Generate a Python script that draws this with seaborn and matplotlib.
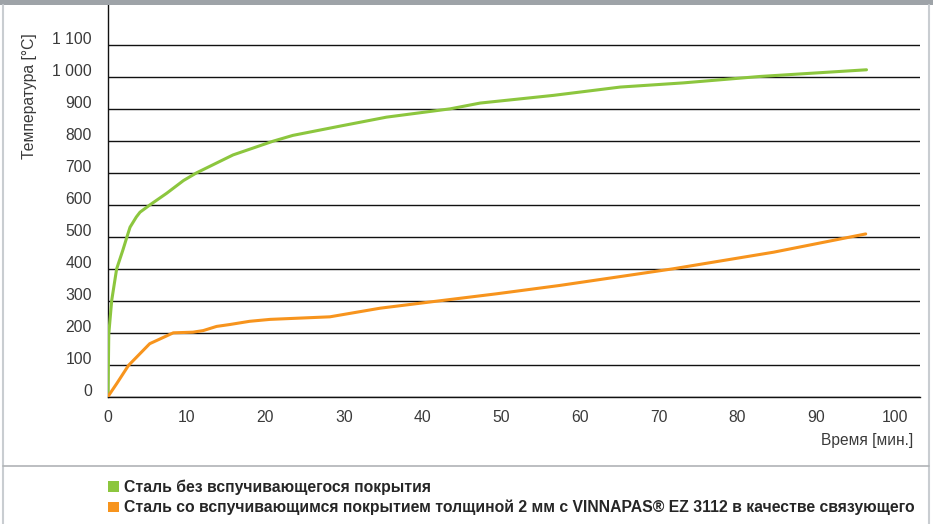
import numpy as np
import pandas as pd
import matplotlib
matplotlib.use("Agg")
import matplotlib.pyplot as plt
import seaborn as sns
from matplotlib.lines import Line2D
from matplotlib.patches import Rectangle, Patch
from matplotlib.transforms import ScaledTranslation

# ---- data ----
green_t = [0, 0.1, 0.47, 1.1, 1.87, 2.4, 2.8, 3.6, 4.07, 5.34, 7.45, 9.6, 11.26, 15.9,
           21.0, 23.5, 29.5, 35.4, 43.5, 47.3, 56.6, 65.1, 73.1, 82.8, 96.4]
green_T = [0, 196, 300, 399, 456, 498, 529, 561, 576, 599, 635, 675, 699, 755,
           798, 816, 845, 873, 899, 917, 941, 967, 980, 1000, 1021]
orange_t = [0, 1.1, 2.6, 5.3, 8.3, 10.8, 12.1, 13.8, 15.5, 18, 20.6, 28.2, 34.6,
            41.8, 49.4, 57.4, 71.8, 84.6, 96.3]
orange_T = [0, 40, 97, 165, 199, 201, 206, 219, 225, 235, 241, 249, 276,
            298, 321, 347, 399, 451, 508]

series_names = ["Сталь без вспучивающегося покрытия",
                "Сталь со вспучивающимся покрытием толщиной 2 мм с VINNAPAS® EZ 3112 в качестве связующего"]
series_colors = ["#8cc63e", "#f7941d"]

x_ticks = [0, 10, 20, 30, 40, 50, 60, 70, 80, 90, 100]
y_ticks = [0, 100, 200, 300, 400, 500, 600, 700, 800, 900, 1000, 1100]
y_tick_labels = ["0", "100", "200", "300", "400", "500", "600", "700", "800", "900", "1 000", "1 100"]
x_label = "Время [мин.]"
y_label = "Температура [°C]"

df = pd.concat([
    pd.DataFrame({"t": green_t, "T": green_T, "s": series_names[0]}),
    pd.DataFrame({"t": orange_t, "T": orange_T, "s": series_names[1]}),
])

sns.set_style("white")
plt.rcParams["font.family"] = ["Liberation Sans", "DejaVu Sans"]

W, H = 933, 524
fig = plt.figure(figsize=(W / 100, H / 100), dpi=100)
ax = fig.add_axes([108 / W, 1 - 396.5 / H, (920 - 108) / W, (396.5 - 5) / H])

sns.lineplot(data=df, x="t", y="T", hue="s", palette=series_colors, ax=ax,
             linewidth=2.2, legend=False, sort=False, estimator=None, zorder=3)

ax.set_xlim(0, 103.2)
ax.set_ylim(0, (396.5 - 5) / 0.32)
ax.set_xticks(x_ticks)
ax.set_xticklabels([str(v) for v in x_ticks])
ax.set_yticks(y_ticks)
ax.set_yticklabels(y_tick_labels)
ax.set_xlabel("")
ax.set_ylabel("")
ax.tick_params(axis="both", length=0, labelsize=11.3, labelcolor="#3a3a3a")
ax.tick_params(axis="y", pad=11.5)
ax.tick_params(axis="x", pad=9.5)
ax.grid(axis="y", color="#111111", linewidth=1.0)
ax.grid(axis="x", visible=False)
for side in ["top", "right"]:
    ax.spines[side].set_visible(False)
for side in ["left", "bottom"]:
    ax.spines[side].set_color("#111111")
    ax.spines[side].set_linewidth(1.0)

off = ScaledTranslation(0, 0.06, fig.dpi_scale_trans)
for lbl in ax.get_yticklabels():
    lbl.set_transform(lbl.get_transform() + off)

fig.text(30 / W, 1 - 33 / H, y_label, rotation=90, ha="center", va="top",
         fontsize=11.3, color="#3a3a3a")
fig.text(913 / W, 1 - 441 / H, x_label, ha="right", va="center",
         fontsize=11.2, color="#3a3a3a")

# frame decorations
fig.add_artist(Rectangle((0, 1 - 5 / H), 1, 5 / H, transform=fig.transFigure,
                         color="#9ea3a8", lw=0))
fig.add_artist(Line2D([3 / W, 3 / W], [0, 1 - 5 / H], transform=fig.transFigure,
                      color="#c9cdd1", lw=1.5))
fig.add_artist(Line2D([929 / W, 929 / W], [0, 1 - 5 / H], transform=fig.transFigure,
                      color="#c9cdd1", lw=1.5))
fig.add_artist(Line2D([3 / W, 929 / W], [1 - 466 / H, 1 - 466 / H], transform=fig.transFigure,
                      color="#b0b3b6", lw=1.2))

handles = [Patch(facecolor=c, edgecolor="none") for c in series_colors]
fig.legend(handles, series_names, loc="upper left",
           bbox_to_anchor=(108 / W, 1 - 480 / H), frameon=False,
           handlelength=0.7, handleheight=0.7, handletextpad=0.32,
           labelspacing=0.29, borderaxespad=0, borderpad=0,
           prop={"weight": "bold", "size": 11.3})

fig.savefig("out.png", dpi=100)
